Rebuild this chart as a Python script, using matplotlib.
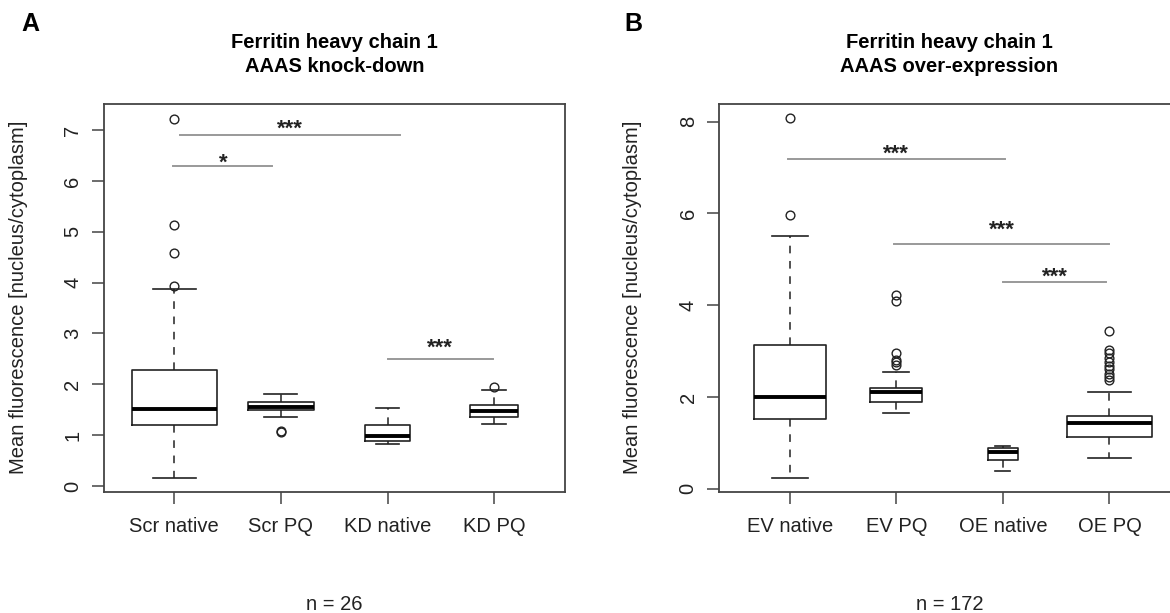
import matplotlib
matplotlib.use("Agg")
import matplotlib.pyplot as plt

plt.rcParams['font.family'] = ['Liberation Sans', 'DejaVu Sans']

# Panel A: AAAS knock-down
groups_a = ['Scr native', 'Scr PQ', 'KD native', 'KD PQ']
low_a = [0.16, 1.35, 0.83, 1.21]
q1_a = [1.20, 1.49, 0.88, 1.36]
med_a = [1.52, 1.56, 0.98, 1.47]
q3_a = [2.29, 1.66, 1.19, 1.59]
high_a = [3.87, 1.80, 1.53, 1.89]
out_a = [[7.22, 5.13, 4.59, 3.93], [1.06, 1.09], [], [1.94]]
n_a = 26

# Panel B: AAAS over-expression
groups_b = ['EV native', 'EV PQ', 'OE native', 'OE PQ']
low_b = [0.23, 1.64, 0.38, 0.66]
q1_b = [1.53, 1.90, 0.63, 1.13]
med_b = [1.99, 2.11, 0.79, 1.43]
q3_b = [3.13, 2.20, 0.88, 1.58]
high_b = [5.50, 2.54, 0.93, 2.11]
out_b = [[8.07, 5.97],
         [4.22, 4.10, 2.95, 2.81, 2.76, 2.69],
         [],
         [3.44, 3.02, 2.95, 2.86, 2.77, 2.68, 2.60, 2.51, 2.44, 2.37]]
n_b = 172

# significance brackets: from group, to group, line height, label height, label
sig_a_from = [1.05, 0.99, 3.00]
sig_a_to = [3.12, 1.92, 3.99]
sig_a_line = [6.91, 6.30, 2.49]
sig_a_text = [7.01, 6.34, 2.71]
sig_a_lab = ['***', '*', '***']

sig_b_from = [0.98, 1.98, 3.00]
sig_b_to = [3.02, 4.00, 3.97]
sig_b_line = [7.19, 5.33, 4.50]
sig_b_text = [7.30, 5.63, 4.62]
sig_b_lab = ['***', '***', '***']

W, H = 1170, 613
fig = plt.figure(figsize=(W / 100, H / 100), dpi=100)

dark = '#222222'
FS = 14.5


def panel(left_px, groups, low, q1, med, q3, high, outs, widths, ylim, yticks,
          s_from, s_to, s_line, s_text, s_lab):
    ax = fig.add_axes([left_px / W, 1 - 492.3 / H, 460.5 / W, 388.3 / H])
    stats = []
    for g, l, a, m, b, h, f in zip(groups, low, q1, med, q3, high, outs):
        stats.append(dict(label=g, whislo=l, q1=a, med=m, q3=b, whishi=h, fliers=f))
    ax.bxp(stats, positions=[1, 2, 3, 4], widths=widths,
           capwidths=[w / 2 for w in widths],
           boxprops=dict(color=dark, lw=1.2),
           medianprops=dict(color='black', lw=2.8, solid_capstyle='butt'),
           whiskerprops=dict(color=dark, lw=1.1, linestyle=(0, (5, 5))),
           capprops=dict(color=dark, lw=1.2),
           flierprops=dict(marker='o', mfc='none', mec=dark, ms=6.3, mew=1.0))
    for x1, x2, yl, yt, lab in zip(s_from, s_to, s_line, s_text, s_lab):
        ax.plot([x1, x2], [yl, yl], color='#999999', lw=1.4)
        ax.text((x1 + x2) / 2, yt, lab, ha='center', va='center', fontsize=16,
                fontweight='bold', color=dark)
    ax.set_xlim(0.34, 4.66)
    ax.set_ylim(*ylim)
    ax.set_xticks([1, 2, 3, 4], labels=groups)
    ax.set_yticks(yticks, labels=[str(t) for t in yticks], rotation=90, va='center')
    ax.tick_params(axis='both', length=8.6, width=1.1, color='#444444',
                   labelsize=FS, labelcolor=dark)
    ax.tick_params(axis='x', pad=9)
    ax.tick_params(axis='y', pad=7)
    for s in ax.spines.values():
        s.set_color('#444444')
        s.set_linewidth(1.3)
    return ax


ax_a = panel(104, groups_a, low_a, q1_a, med_a, q3_a, high_a, out_a,
             [0.80, 0.62, 0.415, 0.45], (-0.124, 7.512), list(range(0, 8)),
             sig_a_from, sig_a_to, sig_a_line, sig_a_text, sig_a_lab)
ax_b = panel(719.3, groups_b, low_b, q1_b, med_b, q3_b, high_b, out_b,
             [0.674, 0.49, 0.28, 0.80], (-0.078, 8.386), [0, 2, 4, 6, 8],
             sig_b_from, sig_b_to, sig_b_line, sig_b_text, sig_b_lab)


def ftext(xp, yp, s, **kw):
    fig.text(xp / W, 1 - yp / H, s, **kw)


ylab = 'Mean fluorescence [nucleus/cytoplasm]'
for cx, ylx, letter_x, letter, sub, n in [(334.3, 18.6, 30, 'A', 'AAAS knock-down', n_a),
                                          (949.5, 632.7, 633, 'B', 'AAAS over-expression', n_b)]:
    ftext(cx, 43, 'Ferritin heavy chain 1', ha='center', va='center', fontsize=FS,
          fontweight='bold')
    ftext(cx, 67, sub, ha='center', va='center', fontsize=FS, fontweight='bold')
    ftext(ylx, 297, ylab, ha='center', va='center', rotation=90, fontsize=FS, color=dark)
    ftext(cx, 604, f'n = {n}', ha='center', va='center', fontsize=FS, color=dark)
    ftext(letter_x, 24, letter, ha='center', va='center', fontsize=18, fontweight='bold')

fig.savefig('out.png', dpi=100)
